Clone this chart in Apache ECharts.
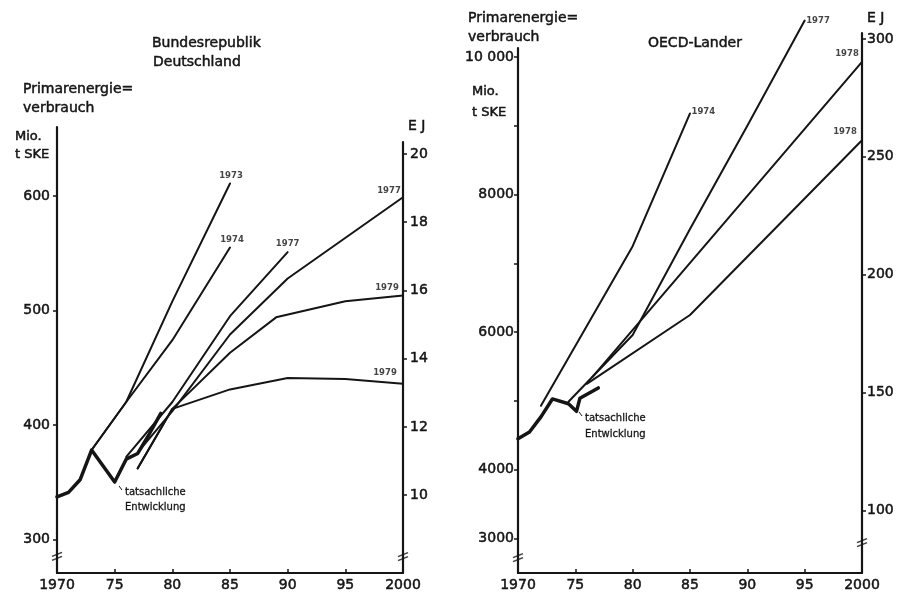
<!DOCTYPE html>
<html>
<head>
<meta charset="utf-8">
<script src="https://cdn.jsdelivr.net/npm/echarts@6/dist/echarts.min.js"></script>
<style>
  html, body { margin: 0; padding: 0; background: #fff; }
  #chart { width: 907px; height: 596px; }
</style>
</head>
<body>
<div id="chart"></div>
<script>
// ---- Bundesrepublik Deutschland (Mio. t SKE) ----
const brdActualYears = [1970, 1971, 1972, 1973, 1975, 1976, 1977, 1978, 1979];
const brdActual      = [337, 341, 352, 378, 350, 370, 375, 392, 410];

const brd1973Years  = [1973, 1976, 1980, 1985];
const brd1973       = [378, 420, 508, 611];
const brd1974Years  = [1973, 1976, 1980, 1985];
const brd1974       = [378, 420, 474, 555];
const brd1977aYears = [1976, 1980, 1985, 1990];
const brd1977a      = [372, 420, 495, 551];
const brd1977bYears = [1977, 1980, 1985, 1990, 2000];
const brd1977b      = [376, 412, 479, 528, 599];
const brd1979aYears = [1977, 1980, 1985, 1989, 1995, 2000];
const brd1979a      = [362, 414, 463, 494, 508, 513];
const brd1979bYears = [1977, 1980, 1985, 1990, 1995, 2000];
const brd1979b      = [362, 414, 431, 441, 440, 436];

const brdMioLabels = [300, 400, 500, 600];
const brdEjLabels  = [10, 12, 14, 16, 18, 20];

// ---- OECD-Länder (Mio. t SKE) ----
const oecdActualYears = [1970, 1971, 1972, 1973, 1974.4, 1975.1, 1975.4, 1977];
const oecdActual      = [4450, 4550, 4770, 5030, 4960, 4850, 5040, 5190];

const oecd1974Years  = [1972, 1980, 1985];
const oecd1974       = [4930, 7250, 9180];
const oecd1977Years  = [1974.4, 1980, 1985, 1990, 1995];
const oecd1977       = [4990, 5960, 7500, 9000, 10530];
const oecd1978aYears = [1976.5, 2000];
const oecd1978a      = [5350, 9930];
const oecd1978bYears = [1976, 1985, 2000];
const oecd1978b      = [5250, 6250, 8790];

const oecdMioLabels = [3000, 4000, 6000, 8000, 10000];
const oecdMioTicks  = [3000, 4000, 5000, 6000, 7000, 8000, 9000, 10000];
const oecdEjLabels  = [100, 150, 200, 250, 300];

// axis break marks (value where the "//" sits on each axis)
const brdBreaks  = [[1970, 285], [2000, 8.2]];
const oecdBreaks = [[1970, 2723], [2000, 86.4]];

const ink = '#151515';
const font = 'DejaVu Sans';
const heavy = { textBorderColor: ink, textBorderWidth: 0.5 };

function lineSeries(xs, ys, axis, width) {
  return {
    type: 'line', xAxisIndex: axis, yAxisIndex: axis,
    data: xs.map((x, i) => [x, ys[i]]),
    symbol: 'none', silent: true, animation: false, clip: false,
    lineStyle: { color: ink, width: width, join: 'round', cap: 'round' }
  };
}

// projection name labels at line ends
function endLabels(projs, axis) {
  return {
    type: 'scatter', xAxisIndex: axis, yAxisIndex: axis, symbolSize: 1,
    silent: true, animation: false, clip: false,
    itemStyle: { color: 'transparent' },
    data: projs.map(p => {
      const n = p.x.length - 1;
      return {
        value: [p.x[n], p.y[n]],
        label: {
          show: true, formatter: p.name, position: p.pos, distance: p.dist, offset: p.off,
          fontSize: 8.5, fontWeight: 'bold', fontFamily: font, color: ink
        }
      };
    })
  };
}

function breakMarks(points, axisA, axisB) {
  return [axisA, axisB].map((ax, i) => ({
    type: 'scatter', xAxisIndex: ax, yAxisIndex: ax, clip: false,
    silent: true, animation: false,
    symbol: 'path://M0,5 L10,1 M0,9 L10,5', symbolSize: [10, 8],
    itemStyle: { color: 'transparent', borderColor: ink, borderWidth: 1.6 },
    data: [points[i]]
  }));
}

function xAxisCfg(grid) {
  return {
    type: 'value', gridIndex: grid, min: 1970, max: 2000, interval: 5,
    axisLine: { show: true, onZero: false, lineStyle: { color: ink, width: 2.2 } },
    axisTick: { show: true, inside: true, length: 4, lineStyle: { color: ink, width: 1.5 } },
    axisLabel: Object.assign({
      margin: 5, color: ink, fontFamily: font, fontSize: 14,
      formatter: v => (v === 1970 || v === 2000) ? String(v) : String(v).slice(2)
    }, heavy),
    splitLine: { show: false }
  };
}
function hiddenX(grid) {
  return { type: 'value', gridIndex: grid, min: 1970, max: 2000, show: false };
}
function yAxisCfg(grid, pos, min, max, labels, ticks, fmt, margin) {
  return {
    type: 'value', gridIndex: grid, position: pos, min: min, max: max,
    axisLine: { show: true, onZero: false, lineStyle: { color: ink, width: 2.2 } },
    axisTick: { show: true, inside: false, length: 4, customValues: ticks, lineStyle: { color: ink, width: 1.5 } },
    axisLabel: Object.assign({ customValues: labels, margin: margin, color: ink, fontFamily: font, fontSize: 14, formatter: fmt }, heavy),
    splitLine: { show: false }
  };
}

const brdProjs = [
  { name: '1973', x: brd1973Years,  y: brd1973,  pos: 'top', dist: 3, off: [1, 0] },
  { name: '1974', x: brd1974Years,  y: brd1974,  pos: 'top', dist: 3, off: [2, 0] },
  { name: '1977', x: brd1977aYears, y: brd1977a, pos: 'top', dist: 3, off: [0, 0] },
  { name: '1977', x: brd1977bYears, y: brd1977b, pos: 'top', dist: 1, off: [-14, 0] },
  { name: '1979', x: brd1979aYears, y: brd1979a, pos: 'top', dist: 3, off: [-16, 0] },
  { name: '1979', x: brd1979bYears, y: brd1979b, pos: 'top', dist: 6, off: [-18, 0] }
];
const oecdProjs = [
  { name: '1974', x: oecd1974Years,  y: oecd1974,  pos: 'right', dist: 1, off: [0, -2] },
  { name: '1977', x: oecd1977Years,  y: oecd1977,  pos: 'right', dist: 1, off: [0, 0] },
  { name: '1978', x: oecd1978aYears, y: oecd1978a, pos: 'top', dist: 3, off: [-15, 0] },
  { name: '1978', x: oecd1978bYears, y: oecd1978b, pos: 'top', dist: 3, off: [-17, 0] }
];

const texts = [
  ['Bundesrepublik', 152, 43, 14], ['Deutschland', 153, 62, 14],
  ['Primarenergie=', 23, 89, 14], ['verbrauch', 23, 108, 14],
  ['Mio.', 15, 137, 13], ['t SKE', 15, 155, 13], ['E J', 408, 126, 14],
  ['tatsachliche', 125, 492, 10], ['Entwicklung', 125, 507, 10],
  ['Primarenergie=', 468, 18, 14], ['verbrauch', 468, 37, 14],
  ['OECD-Lander', 648, 43, 14], ['Mio.', 472, 92, 13], ['t SKE', 472, 113, 13],
  ['E J', 867, 18, 14],
  ['tatsachliche', 585, 418, 10], ['Entwicklung', 585, 434, 10]
];

const series = [
  lineSeries(brdActualYears, brdActual, 0, 3.5),
  ...brdProjs.map(p => lineSeries(p.x, p.y, 0, 2)),
  endLabels(brdProjs, 0),
  lineSeries(oecdActualYears, oecdActual, 2, 3.5),
  ...oecdProjs.map(p => lineSeries(p.x, p.y, 2, 2)),
  endLabels(oecdProjs, 2),
  ...breakMarks(brdBreaks, 0, 1),
  ...breakMarks(oecdBreaks, 2, 3)
];

const chart = echarts.init(document.getElementById('chart'), null, { renderer: 'canvas' });
chart.setOption({
  backgroundColor: '#fff',
  animation: false,
  grid: [
    { left: 57, top: 127, width: 346, height: 446, containLabel: false, outerBoundsMode: 'none' },
    { left: 57, top: 142, width: 346, height: 431, containLabel: false, outerBoundsMode: 'none' },
    { left: 518, top: 48, width: 344, height: 525, containLabel: false, outerBoundsMode: 'none' },
    { left: 518, top: 33, width: 344, height: 540, containLabel: false, outerBoundsMode: 'none' }
  ],
  xAxis: [xAxisCfg(0), hiddenX(1), xAxisCfg(2), hiddenX(3)],
  yAxis: [
    yAxisCfg(0, 'left', 270.5, 660.4, brdMioLabels, brdMioLabels, null, 7),
    yAxisCfg(1, 'right', 7.72, 20.35, brdEjLabels, brdEjLabels, null, 7),
    yAxisCfg(2, 'left', 2500, 10131, oecdMioLabels, oecdMioTicks,
      v => v === 10000 ? '10 000' : String(v), 4),
    yAxisCfg(3, 'right', 73.5, 302.5, oecdEjLabels, oecdEjLabels, null, 5)
  ],
  graphic: texts.map(t => ({
    type: 'text', x: t[1], y: t[2], silent: true,
    style: {
      text: t[0], fill: ink, stroke: ink, lineWidth: t[3] > 10 ? 0.5 : 0.3,
      font: t[3] + 'px "' + font + '"', verticalAlign: 'middle'
    }
  })).concat([
    { type: 'line', silent: true, shape: { x1: 119, y1: 486, x2: 122, y2: 490 }, style: { stroke: ink, lineWidth: 1 } },
    { type: 'line', silent: true, shape: { x1: 579, y1: 412, x2: 582, y2: 416 }, style: { stroke: ink, lineWidth: 1 } }
  ]),
  series: series
});
</script>
</body>
</html>
